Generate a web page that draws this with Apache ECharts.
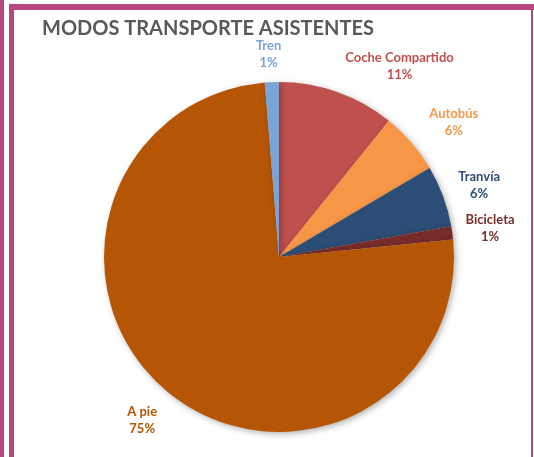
<!DOCTYPE html>
<html>
<head>
<meta charset="utf-8">
<script src="https://cdn.jsdelivr.net/npm/echarts@6/dist/echarts.min.js"></script>
<style>
  html, body { margin: 0; padding: 0; background: #fff; }
  #wrap { position: relative; width: 534px; height: 457px; overflow: hidden; }
  #chart { position: absolute; left: 0; top: 0; width: 534px; height: 457px; }
  .bar { position: absolute; background: #B5487F; }
</style>
</head>
<body>
<div id="wrap">
  <div id="chart"></div>
  <div class="bar" style="left:0;top:0;width:4px;height:457px"></div>
  <div class="bar" style="left:9px;top:4px;width:5px;height:453px"></div>
  <div class="bar" style="left:9px;top:4px;width:525px;height:6px"></div>
  <div class="bar" style="left:531px;top:4px;width:2px;height:453px"></div>
</div>
<script>
// modos de transporte, en sentido horario desde arriba
var categorias = ["Coche Compartido", "Autobús", "Tranvía", "Bicicleta", "A pie", "Tren"];
var porcentajes = [10.8, 5.7, 5.7, 1.2, 75.3, 1.3];
var colores = ["#C0504D", "#F79646", "#2C4D75", "#772C2A", "#B65504", "#7BA3D6"];
// ajuste fino de etiquetas (Coche Compartido va mas a la derecha)
var desplazX = [52, 19, 7, 7, -5, -2];
var desplazY = [4, 0, 0, 0, 5, 3];

var myChart = echarts.init(document.getElementById("chart"));

var datos = [];
for (var i = 0; i < categorias.length; i++) {
    datos.push({
        name: categorias[i],
        value: porcentajes[i],
        itemStyle: { color: colores[i] },
        label: { color: colores[i] }
    });
}

var option = {
    animation: false,
    title: {
        text: "MODOS TRANSPORTE ASISTENTES",
        left: 37,
        top: 14,
        textStyle: {
            fontFamily: "Lato",
            fontWeight: "bold",
            fontSize: 20,
            color: "#595959"
        }
    },
    series: [
        {
            type: "pie",
            center: [279, 257],
            radius: 175,
            startAngle: 90,
            clockwise: true,
            data: datos,
            itemStyle: {
                shadowBlur: 6,
                shadowColor: "rgba(0,0,0,0.3)",
                shadowOffsetX: 2,
                shadowOffsetY: 2
            },
            label: {
                show: true,
                position: "outside",
                overflow: "none",
                fontFamily: "Lato",
                fontWeight: "bold",
                fontSize: 13,
                lineHeight: 17,
                formatter: function (p) {
                    return p.name + "\n" + Math.round(p.percent) + "%";
                }
            },
            labelLine: {
                show: true,
                length: 31,
                length2: 0,
                lineStyle: { opacity: 0 }
            },
            labelLayout: function (p) {
                var pts = p.labelLinePoints;
                if (!pts) return {};
                return {
                    x: pts[1][0] + desplazX[p.dataIndex],
                    y: pts[1][1] + desplazY[p.dataIndex],
                    align: "center",
                    verticalAlign: "middle"
                };
            }
        }
    ]
};

myChart.setOption(option);
window.addEventListener("resize", function () {
    myChart.resize();
});
</script>
</body>
</html>
